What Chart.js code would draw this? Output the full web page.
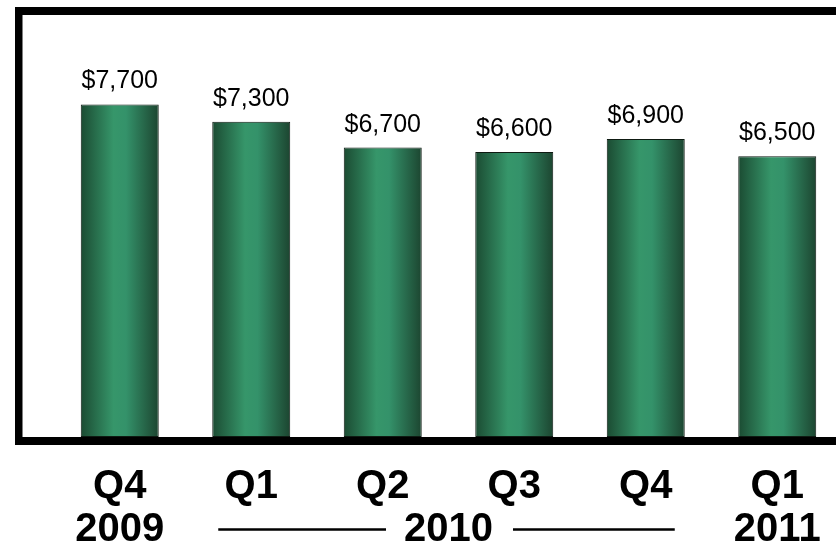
<!DOCTYPE html>
<html>
<head>
<meta charset="utf-8">
<script src="https://cdn.jsdelivr.net/npm/chart.js@4.4.1/dist/chart.umd.min.js"></script>
<style>
  html, body { margin: 0; padding: 0; background: #fff; overflow: hidden; }
  #wrap { position: absolute; left: 0; top: 0; width: 850px; height: 589px; }
</style>
</head>
<body>
<div id="wrap"><canvas id="chart"></canvas></div>
<script>
// Quarterly values
const quarters = ['Q4', 'Q1', 'Q2', 'Q3', 'Q4', 'Q1'];
const years = ['2009', '', '', '', '', '2011'];
const values = [7700, 7300, 6700, 6600, 6900, 6500];
// Year label spanning several quarters, with rules on either side
const spanYear = '2010';
const spanRange = [1, 4];

const labels = quarters.map((q, i) => [q, years[i]]);
const BAR_PCT = 0.593;
const TICK_PAD = 28;
const LINE_H = 43;
const FONT = "'Liberation Sans', Arial, Helvetica, sans-serif";

function barGradient(c) {
  const chart = c.chart;
  if (!chart.chartArea || c.dataIndex === undefined) return '#2e8b5e';
  const xs = chart.scales.x;
  const cx = xs.getPixelForValue(c.dataIndex);
  const half = (xs.width / values.length) * BAR_PCT / 2;
  const g = chart.ctx.createLinearGradient(cx - half, 0, cx + half, 0);
  g.addColorStop(0, '#1b4b32');
  g.addColorStop(0.42, '#36966a');
  g.addColorStop(0.58, '#34926a');
  g.addColorStop(1, '#1c4530');
  return g;
}

// Heavy frame: top rule, left rule, baseline rule
const framePlugin = {
  id: 'frame',
  afterDatasetsDraw(chart) {
    const { ctx, chartArea: a, width } = chart;
    ctx.save();
    ctx.fillStyle = '#000';
    const t = 8;
    const leftX = a.left - 39;
    ctx.fillRect(leftX, a.top - t, width - leftX, t);
    ctx.fillRect(leftX, a.top - t, 7.5, a.bottom - a.top + 2 * t);
    ctx.fillRect(leftX, a.bottom, width - leftX, t);
    ctx.restore();
  }
};

// Value labels above bars
const valueLabels = {
  id: 'valueLabels',
  afterDatasetsDraw(chart) {
    const { ctx } = chart;
    const meta = chart.getDatasetMeta(0);
    ctx.save();
    ctx.font = '25px ' + FONT;
    ctx.fillStyle = '#000';
    ctx.textAlign = 'center';
    ctx.textBaseline = 'alphabetic';
    meta.data.forEach((bar, i) => {
      ctx.fillText('$' + values[i].toLocaleString('en-US'), bar.x, bar.y - 16);
    });
    ctx.restore();
  }
};

// Spanning year label with rules
const spanLabel = {
  id: 'spanLabel',
  afterDraw(chart) {
    const { ctx } = chart;
    const xs = chart.scales.x;
    const x0 = xs.getPixelForValue(spanRange[0]);
    const x1 = xs.getPixelForValue(spanRange[1]);
    const cx = (x0 + x1) / 2;
    const y = chart.chartArea.bottom + TICK_PAD + LINE_H * 1.5;
    ctx.save();
    ctx.font = 'bold 40px ' + FONT;
    ctx.fillStyle = '#000';
    ctx.textAlign = 'center';
    ctx.textBaseline = 'middle';
    ctx.fillText(spanYear, cx, y);
    const tw = ctx.measureText(spanYear).width;
    ctx.strokeStyle = '#000';
    ctx.lineWidth = 2.5;
    ctx.beginPath();
    ctx.moveTo(x0 - 33, y);
    ctx.lineTo(cx - tw / 2 - 18, y);
    ctx.moveTo(cx + tw / 2 + 20, y);
    ctx.lineTo(x1 + 29, y);
    ctx.stroke();
    ctx.restore();
  }
};

new Chart(document.getElementById('chart'), {
  type: 'bar',
  data: {
    labels: labels,
    datasets: [{
      data: values,
      backgroundColor: barGradient,
      borderColor: '#0e1a12',
      borderWidth: 1,
      borderSkipped: false,
      barPercentage: BAR_PCT,
      categoryPercentage: 1
    }]
  },
  options: {
    responsive: true,
    maintainAspectRatio: false,
    animation: false,
    layout: { padding: { left: 54, right: 7, top: 15, bottom: 10 } },
    plugins: { legend: { display: false }, tooltip: { enabled: false }, title: { display: false } },
    scales: {
      x: {
        grid: { display: false, drawTicks: false },
        border: { display: false },
        ticks: {
          color: '#000',
          padding: TICK_PAD,
          autoSkip: false,
          maxRotation: 0,
          font: { family: FONT, size: 40, weight: 'bold', lineHeight: LINE_H / 40 }
        }
      },
      y: {
        display: false,
        min: 0,
        max: 9770
      }
    }
  },
  plugins: [framePlugin, valueLabels, spanLabel]
});
</script>
</body>
</html>
